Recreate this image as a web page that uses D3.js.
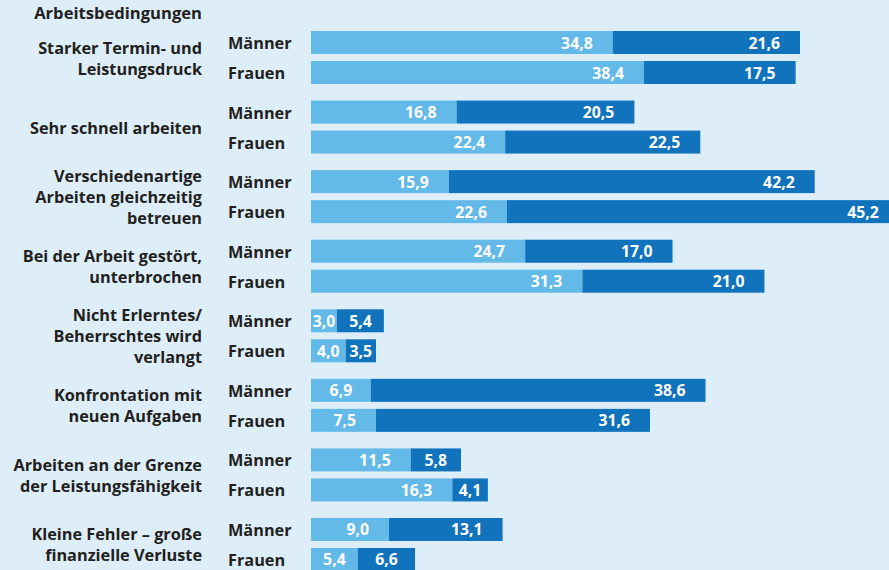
<!DOCTYPE html>
<html><head><meta charset="utf-8">
<script src="https://cdn.jsdelivr.net/npm/d3@7"></script>
<style>
html,body{margin:0;padding:0;background:#ddeef9;}
svg{display:block;}
text{font-family:"Open Sans",sans-serif;font-weight:700;}
</style></head><body>
<svg id="c" width="889" height="570"></svg>
<script>
const title = "Arbeitsbedingungen";
const categories = [
  ["Starker Termin- und","Leistungsdruck"],
  ["Sehr schnell arbeiten"],
  ["Verschiedenartige","Arbeiten gleichzeitig","betreuen"],
  ["Bei der Arbeit gestört,","unterbrochen"],
  ["Nicht Erlerntes/","Beherrschtes wird","verlangt"],
  ["Konfrontation mit","neuen Aufgaben"],
  ["Arbeiten an der Grenze","der Leistungsfähigkeit"],
  ["Kleine Fehler – große","finanzielle Verluste"]
];
const genders = ["Männer","Frauen"];
const maennerHaeufig     = [34.8,16.8,15.9,24.7,3.0,6.9,11.5,9.0];
const maennerSehrHaeufig = [21.6,20.5,42.2,17.0,5.4,38.6,5.8,13.1];
const frauenHaeufig      = [38.4,22.4,22.6,31.3,4.0,7.5,16.3,5.4];
const frauenSehrHaeufig  = [17.5,22.5,45.2,21.0,3.5,31.6,4.1,6.6];

const colors = ["#63b9e8","#1073bc"];
const textColor = "#231f20";
const fmt = d3.formatLocale({decimal:",",thousands:".",grouping:[3],currency:["","€"]}).format(".1f");

const svg = d3.select("#c");
const x = d3.scaleLinear().domain([0,60]).range([311, 311+60*8.67]);
const y = d3.scaleBand().domain(d3.range(categories.length)).range([31, 31+categories.length*69.57]).paddingInner(0).paddingOuter(0);
const yg = d3.scaleBand().domain(genders).range([0,53]).paddingInner(7/30);

const rows = [];
categories.forEach((c,i)=>{
  rows.push({g:i, gender:"Männer", vals:[maennerHaeufig[i], maennerSehrHaeufig[i]]});
  rows.push({g:i, gender:"Frauen", vals:[frauenHaeufig[i], frauenSehrHaeufig[i]]});
});

svg.append("text").attr("x",202).attr("y",18.5).attr("text-anchor","end")
  .attr("font-size",16.6).attr("fill",textColor).text(title);

// category labels
const lh = 21;
categories.forEach((lines,i)=>{
  const base = y(i) + 33 - (lines.length-1)*lh/2;
  const t = svg.append("text").attr("text-anchor","end").attr("font-size",16.3).attr("fill",textColor);
  lines.forEach((l,k)=>{
    t.append("tspan").attr("x",202).attr("y",base + k*lh).text(l);
  });
});

rows.forEach(r=>{
  const top = y(r.g) + yg(r.gender);
  const h = yg.bandwidth();
  svg.append("text").attr("x",228).attr("y",top + h/2 + 6.5).attr("font-size",16.3)
    .attr("fill",textColor).text(r.gender);
  let cum = 0;
  r.vals.forEach((v,k)=>{
    const x0 = x(cum), x1 = x(cum+v);
    cum += v;
    svg.append("rect").attr("x",x0).attr("y",top).attr("width",x1-x0).attr("height",h).attr("fill",colors[k]);
    const t = svg.append("text").attr("y",top + h/2 + 6).attr("font-size",15.8)
      .attr("fill","#ffffff").attr("text-anchor","end").text(fmt(v));
    const tw = t.node().getComputedTextLength();
    const pad = Math.min(20, (x1-x0-tw)/2);
    t.attr("x", x1 - pad);
  });
});
</script></body></html>
